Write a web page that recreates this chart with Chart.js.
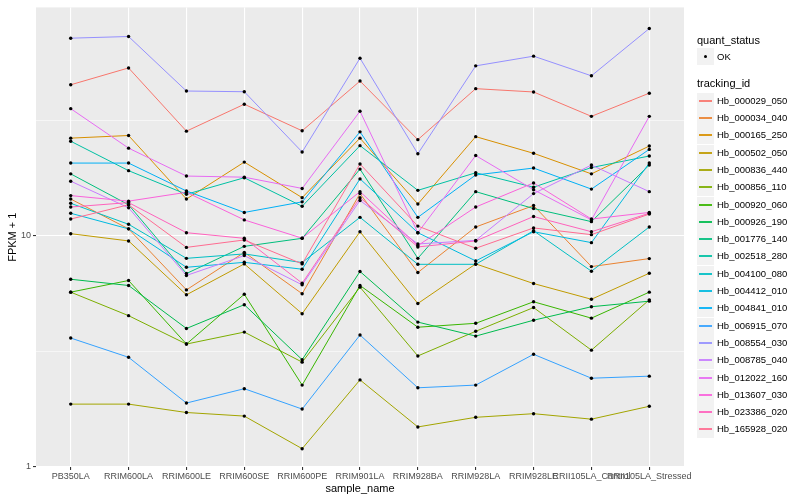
<!DOCTYPE html>
<html>
<head>
<meta charset="utf-8">
<script src="https://cdn.jsdelivr.net/npm/chart.js@4.4.0/dist/chart.umd.min.js"></script>
<style>
  body { margin: 0; background: #fff; }
  #wrap { position: relative; width: 800px; height: 500px; font-family: 'Liberation Sans', Arial, sans-serif; }
  #c { position: absolute; left: 0; top: 0; }
  .lg { position: absolute; white-space: nowrap; color: #000; }
  .key { position: absolute; width: 17px; height: 17px; background: #f2f2f2; }
</style>
</head>
<body>
<div id="wrap"><canvas id="c" width="800" height="500"></canvas></div>
<script>
// sample names on the x axis
const samples = ['PB350LA', 'RRIM600LA', 'RRIM600LE', 'RRIM600SE', 'RRIM600PE', 'RRIM901LA',
  'RRIM928BA', 'RRIM928LA', 'RRIM928LE', 'RRII105LA_Control', 'RRII105LA_Stressed'];

const trackingIds = ['Hb_000029_050', 'Hb_000034_040', 'Hb_000165_250', 'Hb_000502_050', 'Hb_000836_440',
  'Hb_000856_110', 'Hb_000920_060', 'Hb_000926_190', 'Hb_001776_140', 'Hb_002518_280',
  'Hb_004100_080', 'Hb_004412_010', 'Hb_004841_010', 'Hb_006915_070', 'Hb_008554_030',
  'Hb_008785_040', 'Hb_012022_160', 'Hb_013607_030', 'Hb_023386_020', 'Hb_165928_020'];

// FPKM + 1, one array per gene, in sample order
const hb000029_050 = [44.9, 53.1, 28.3, 37.0, 28.4, 46.6, 26.0, 43.2, 41.8, 32.8, 41.3];
const hb000034_040 = [14.4, 10.7, 5.83, 8.47, 5.61, 15.2, 6.93, 10.9, 13.5, 7.35, 7.96];
const hb000165_250 = [26.4, 27.1, 14.4, 20.8, 14.6, 26.4, 13.7, 26.8, 22.7, 18.5, 24.4];
const hb000502_050 = [10.2, 9.49, 5.55, 7.55, 4.60, 10.4, 5.09, 7.55, 6.21, 5.31, 6.88];
const hb000836_440 = [1.87, 1.87, 1.72, 1.66, 1.20, 2.38, 1.49, 1.64, 1.70, 1.61, 1.83];
const hb000856_110 = [5.70, 4.51, 3.40, 3.83, 2.84, 5.99, 3.02, 3.86, 4.89, 3.20, 5.28];
const hb000920_060 = [5.70, 6.40, 3.40, 5.58, 2.26, 6.09, 4.02, 4.18, 5.18, 4.40, 5.70];
const hb000926_190 = [6.48, 6.09, 3.97, 5.03, 2.91, 7.00, 4.23, 3.68, 4.31, 4.93, 5.21];
const hb001776_140 = [18.5, 13.6, 6.86, 8.99, 9.74, 19.4, 7.98, 15.5, 13.1, 11.5, 20.2];
const hb002518_280 = [25.6, 19.1, 15.1, 17.8, 13.4, 24.5, 15.7, 18.7, 16.2, 19.7, 22.1];
const hb004100_080 = [13.8, 11.2, 7.98, 8.34, 7.65, 12.0, 7.52, 7.52, 10.5, 7.02, 10.9];
const hb004412_010 = [12.5, 10.7, 7.30, 7.67, 7.16, 17.6, 10.3, 7.78, 10.4, 9.33, 20.6];
const hb004841_010 = [20.6, 20.6, 15.6, 12.6, 14.0, 28.1, 12.0, 18.3, 19.6, 15.9, 23.6];
const hb006915_070 = [3.61, 2.98, 1.89, 2.18, 1.78, 3.72, 2.20, 2.26, 3.07, 2.42, 2.47];
const hb008554_030 = [71.4, 72.6, 42.2, 41.9, 23.0, 58.5, 22.6, 54.2, 59.7, 49.1, 78.6];
const hb008785_040 = [17.2, 13.2, 6.73, 8.20, 6.13, 14.2, 9.21, 9.54, 15.2, 20.2, 15.5];
const hb012022_160 = [35.4, 23.9, 18.1, 17.9, 16.0, 34.5, 10.3, 22.2, 15.8, 11.7, 32.8];
const hb013607_030 = [14.9, 14.1, 15.4, 11.7, 9.75, 15.5, 9.06, 13.3, 16.9, 11.8, 12.6];
const hb023386_020 = [13.3, 13.9, 10.3, 9.74, 6.23, 14.6, 8.94, 9.49, 12.1, 10.4, 12.5];
const hb165928_020 = [11.8, 13.6, 8.90, 9.58, 7.55, 20.4, 11.0, 8.82, 10.8, 10.1, 12.4];

const series = [hb000029_050, hb000034_040, hb000165_250, hb000502_050, hb000836_440,
  hb000856_110, hb000920_060, hb000926_190, hb001776_140, hb002518_280,
  hb004100_080, hb004412_010, hb004841_010, hb006915_070, hb008554_030,
  hb008785_040, hb012022_160, hb013607_030, hb023386_020, hb165928_020];

// ggplot hue palette, 20 levels
const colors = ['#F8766D', '#EA8331', '#D89000', '#C09B00', '#A3A500', '#7CAE00', '#39B600', '#00BB4E',
  '#00BF7D', '#00C1A3', '#00BFC4', '#00BAE0', '#00B0F6', '#35A2FF', '#9590FF', '#C77CFF',
  '#E76BF3', '#FA62DB', '#FF62BC', '#FF6C91'];

const FONT = "'Liberation Sans', Arial, sans-serif";

const lineSets = series.map((vals, i) => ({
  label: trackingIds[i],
  data: vals.map((v, j) => ({ x: j, y: v })),
  borderColor: colors[i],
  borderWidth: 1,
  pointRadius: 0,
  fill: false,
  order: series.length - i
}));

// all points drawn last, on top of every line
const pointSet = {
  label: 'OK',
  data: series.flatMap(vals => vals.map((v, j) => ({ x: j, y: v }))),
  showLine: false,
  pointRadius: 1.7,
  pointBackgroundColor: '#000',
  pointBorderWidth: 0,
  order: -1
};

const panelBg = {
  id: 'panelBg',
  beforeDraw(chart) {
    const a = chart.chartArea, ctx = chart.ctx;
    ctx.save();
    ctx.fillStyle = '#ebebeb';
    ctx.fillRect(a.left, a.top, a.right - a.left, a.bottom - a.top);
    ctx.restore();
  }
};

const isMajor = v => Math.abs(Math.log10(v) - Math.round(Math.log10(v))) < 1e-6;

new Chart(document.getElementById('c'), {
  type: 'line',
  data: { datasets: [...lineSets, pointSet] },
  plugins: [panelBg],
  options: {
    responsive: false,
    animation: false,
    layout: { padding: { left: 0, right: 116, top: 5, bottom: 0 } },
    plugins: { legend: { display: false }, tooltip: { enabled: false } },
    scales: {
      x: {
        type: 'linear',
        min: -0.6,
        max: 10.6,
        afterBuildTicks: s => { s.ticks = samples.map((_, i) => ({ value: i })); },
        afterFit: s => { s.height = 33; },
        border: { display: false },
        grid: { color: '#ffffff', lineWidth: 1.1, tickColor: '#333333', tickLength: 3 },
        ticks: {
          autoSkip: false, maxRotation: 0, minRotation: 0, padding: 1,
          color: '#4d4d4d', font: { family: FONT, size: 9 },
          callback: v => samples[v]
        },
        title: { display: true, text: 'sample_name', color: '#000', font: { family: FONT, size: 11 }, padding: { top: 0, bottom: 4 } }
      },
      y: {
        type: 'logarithmic',
        min: 1,
        max: 97,
        afterBuildTicks: s => { s.ticks = [1, 3.1623, 10, 31.623].map(v => ({ value: v })); },
        afterFit: s => { s.width = 36; },
        border: { display: false },
        grid: {
          color: '#ffffff',
          lineWidth: c => (c.tick && isMajor(c.tick.value)) ? 1.1 : 0.55,
          tickColor: c => (c.tick && isMajor(c.tick.value)) ? '#333333' : 'rgba(0,0,0,0)',
          tickLength: 3
        },
        ticks: {
          padding: 2, color: '#4d4d4d', font: { family: FONT, size: 9 },
          callback: v => isMajor(v) ? String(Math.round(v)) : ''
        },
        title: { display: true, text: 'FPKM + 1', color: '#000', font: { family: FONT, size: 11 }, padding: { top: 6, bottom: 0 } }
      }
    }
  }
});

// ggplot-style legend on the right
const wrap = document.getElementById('wrap');
function put(cls, css, text) {
  const d = document.createElement('div');
  d.className = cls;
  Object.assign(d.style, css);
  if (text) d.textContent = text;
  wrap.appendChild(d);
  return d;
}
put('lg', { left: '697px', top: '34px', fontSize: '11px' }, 'quant_status');
const okKey = put('key', { left: '697px', top: '48px' });
const dot = document.createElement('div');
Object.assign(dot.style, { position: 'absolute', left: '7px', top: '7px', width: '3.4px', height: '3.4px', borderRadius: '50%', background: '#000' });
okKey.appendChild(dot);
put('lg', { left: '717px', top: '51px', fontSize: '9.5px' }, 'OK');
put('lg', { left: '697px', top: '77px', fontSize: '11px' }, 'tracking_id');
trackingIds.forEach((id, i) => {
  const cy = Math.round(100.7 + i * 17.3);
  const k = put('key', { left: '697px', top: (cy - 8) + 'px' });
  const ln = document.createElement('div');
  Object.assign(ln.style, { position: 'absolute', left: '2px', width: '13px', top: '7px', height: '2px', background: colors[i], opacity: '0.9' });
  k.appendChild(ln);
  put('lg', { left: '717px', top: (cy - 6) + 'px', fontSize: '9.5px' }, id);
});
</script>
</body>
</html>
